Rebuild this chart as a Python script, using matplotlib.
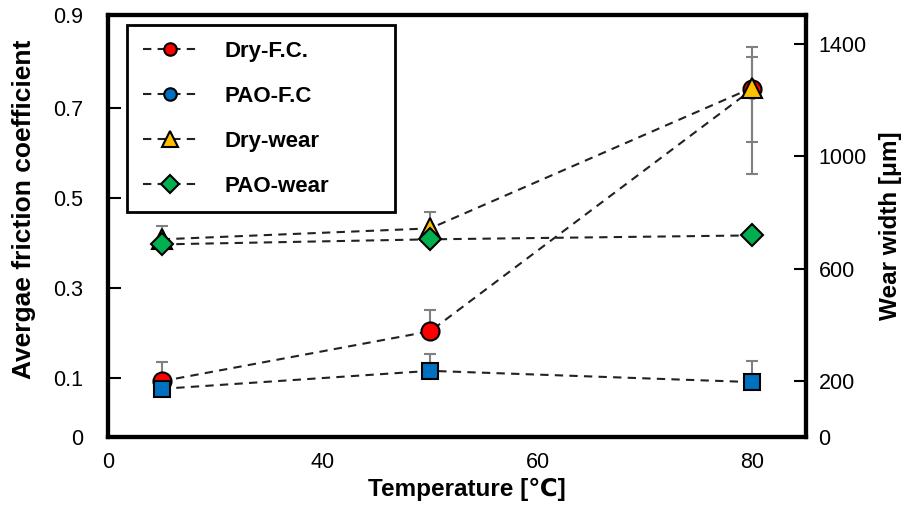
import matplotlib.pyplot as plt
from matplotlib.lines import Line2D

plt.rcParams['font.family'] = ['Liberation Sans', 'DejaVu Sans']

temp = [25, 50, 80]

# friction coefficient (left axis), error bars as (lower, upper)
dry_fc = [0.093, 0.204, 0.742]
dry_fc_err = [[0, 0, 0.117], [0.043, 0.047, 0.094]]
pao_fc = [0.076, 0.116, 0.091]
pao_fc_err = [[0, 0, 0], [0, 0.037, 0.047]]

# wear width in um (right axis)
dry_wear = [704, 743, 1244]
dry_wear_err = [[0, 0, 309], [46, 57, 110]]
pao_wear = [686, 704, 718]

x_ticks = [20, 40, 60, 80]
x_labels = ['0', '40', '60', '80']
fc_ticks = [-0.031, 0.1, 0.3, 0.5, 0.7, 0.907]
fc_labels = ['0', '0.1', '0.3', '0.5', '0.7', '0.9']
wear_ticks = [0, 200, 600, 1000, 1400]

red = '#ff0000'
blue = '#0070c0'
orange = '#ffc000'
green = '#00b050'
grey = '#808080'
dash = (0, (4, 3))

fig = plt.figure(figsize=(9.17, 5.09), dpi=100)
ax1 = fig.add_axes([0.1178, 0.1415, 0.7612, 0.829])
ax2 = ax1.twinx()

err_kw = dict(ecolor=grey, elinewidth=1.5, capsize=4, capthick=1.5)
line_kw = dict(color='#222222', lw=1.5, ls=dash, mec='k', mew=1.5)

ax1.errorbar(temp, dry_fc, yerr=dry_fc_err, fmt='none', zorder=1, **err_kw)
ax1.plot(temp, dry_fc, marker='o', ms=13, mfc=red, zorder=2, **line_kw)
ax1.errorbar(temp, pao_fc, yerr=pao_fc_err, fmt='none', zorder=1, **err_kw)
ax1.plot(temp, pao_fc, marker='s', ms=12, mfc=blue, zorder=3, **line_kw)

ax2.errorbar(temp, dry_wear, yerr=dry_wear_err, fmt='none', zorder=1, **err_kw)
ax2.plot(temp, dry_wear, marker='^', ms=14, mfc=orange, zorder=2, **line_kw)
ax2.plot(temp, pao_wear, marker='D', ms=11, mfc=green, zorder=3, **line_kw)

ax1.set_xlim(20, 85)
ax1.set_ylim(-0.031, 0.907)
ax2.set_ylim(0, 1503)

ax1.set_xticks(x_ticks)
ax1.set_xticklabels(x_labels)
ax1.set_yticks(fc_ticks)
ax1.set_yticklabels(fc_labels)
ax2.set_yticks(wear_ticks)

ax1.tick_params(axis='x', length=0, pad=11, labelsize=15.5)
ax1.tick_params(axis='y', direction='in', length=9, width=1.5, pad=18, labelsize=15.5)
ax2.tick_params(axis='y', direction='in', length=9, width=1.5, pad=9, labelsize=15.5)

for ax in (ax1, ax2):
    for sp in ax.spines.values():
        sp.set_linewidth(3)

ax1.set_xlabel('Temperature [℃]', fontsize=17.5, fontweight='bold', labelpad=3)
ax1.xaxis.label.set_x(0.514)
ax1.set_ylabel('Avergae friction coefficient', fontsize=19, fontweight='bold', labelpad=12)
ax1.yaxis.label.set_y(0.54)
ax2.set_ylabel('Wear width [μm]', fontsize=17.5, fontweight='bold', labelpad=9)

handles = [
    Line2D([], [], marker='o', ms=9, mfc=red, **line_kw),
    Line2D([], [], marker='o', ms=9, mfc=blue, **line_kw),
    Line2D([], [], marker='^', ms=11, mfc=orange, **line_kw),
    Line2D([], [], marker='D', ms=9, mfc=green, **line_kw),
]
labels = ['Dry-F.C.', 'PAO-F.C', 'Dry-wear', 'PAO-wear']
leg = fig.legend(handles, labels, loc='upper left', mode='expand',
                 bbox_to_anchor=(0.1385, 0.5, 0.2922, 0.4509),
                 bbox_transform=fig.transFigure, borderaxespad=0,
                 fancybox=False, edgecolor='k', framealpha=1,
                 handlelength=2.5, handletextpad=1.2, labelspacing=1.08,
                 borderpad=0.7, prop={'size': 16, 'weight': 'bold'})
leg.get_frame().set_linewidth(2)

fig.savefig('out.png', dpi=100)
